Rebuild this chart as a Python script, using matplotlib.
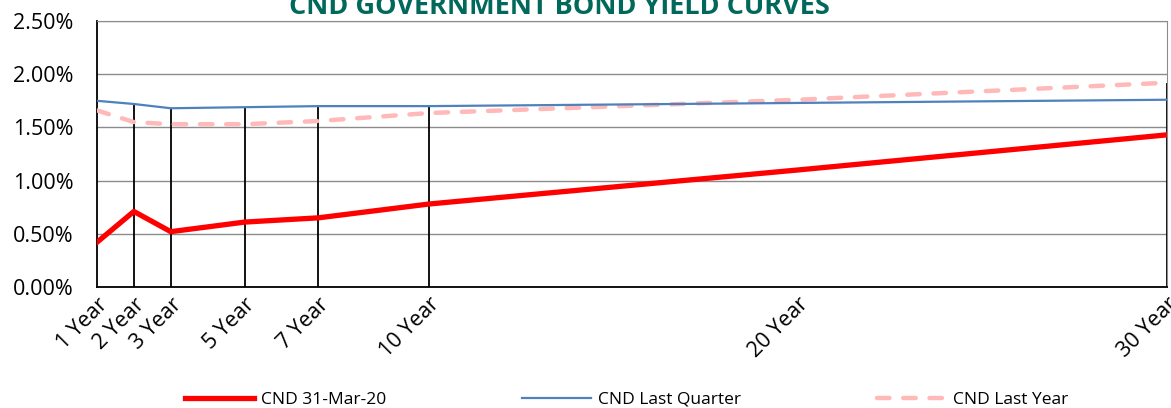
import matplotlib
matplotlib.use("Agg")
import matplotlib.pyplot as plt
from matplotlib.ticker import FuncFormatter

plt.rcParams['font.family'] = ['Open Sans', 'DejaVu Sans']

# maturities in years and their labels
years = [1, 2, 3, 5, 7, 10, 20, 30]
labels = ['1 Year', '2 Year', '3 Year', '5 Year', '7 Year', '10 Year', '20 Year', '30 Year']

# yields in percent
current = [0.42, 0.71, 0.52, 0.61, 0.65, 0.78, 1.10, 1.43]
last_quarter = [1.75, 1.72, 1.68, 1.69, 1.70, 1.70, 1.73, 1.76]
last_year = [1.66, 1.55, 1.53, 1.53, 1.56, 1.635, 1.76, 1.92]

# maturities that get a drop line
drop_years = [2, 3, 5, 7, 10, 30]

fig = plt.figure(figsize=(11.71, 4.08), dpi=100)
ax = fig.add_axes([0.0828, 0.2966, 0.9138, 0.6519])

# drop lines from the highest point down to the axis
for yr in drop_years:
    i = years.index(yr)
    top = max(current[i], last_quarter[i], last_year[i])
    ax.vlines(yr, 0, top, color='black', lw=1.3, zorder=2)

ax.plot(years, last_year, color='#FFB9B9', lw=3.2, dashes=(2.8, 3.1),
        solid_capstyle='round', dash_capstyle='round', label='CND Last Year', zorder=3)
ax.plot(years, last_quarter, color='#4F81BD', lw=1.6, label='CND Last Quarter', zorder=4)
ax.plot(years, current, color='#FF0000', lw=3.8, label='CND 31-Mar-20', zorder=5)

ax.set_xlim(1, 30)
ax.set_ylim(0, 2.5)
ax.set_yticks([0, 0.5, 1.0, 1.5, 2.0, 2.5])
ax.yaxis.set_major_formatter(FuncFormatter(lambda v, p: f'{v:.2f}%'))
ax.set_xticks(years)
ax.set_xticklabels(labels, rotation=45, ha='right', va='top', rotation_mode='anchor')
ax.tick_params(axis='both', length=0, labelsize=15.5)
ax.tick_params(axis='x', pad=5)
ax.tick_params(axis='y', pad=17)
ax.grid(axis='y', color='#8C8C8C', lw=1)
ax.set_axisbelow(True)

for side in ['top', 'right']:
    ax.spines[side].set_color('#8C8C8C')
for side in ['left', 'bottom']:
    ax.spines[side].set_color('black')
    ax.spines[side].set_linewidth(1.3)

fig.text(0.478, 1 - 14 / 408, 'CND GOVERNMENT BOND YIELD CURVES', ha='center', va='baseline',
         fontsize=19.5, fontweight='bold', color='#00695C')

handles, lbls = ax.get_legend_handles_labels()
order = [2, 1, 0]
fig.legend([handles[i] for i in order], [lbls[i] for i in order], loc='center',
           bbox_to_anchor=(0.535, 0.02), ncol=3, frameon=False, fontsize=12.5,
           handlelength=4.0, handletextpad=0.4, columnspacing=7.8)

fig.savefig('out.png', dpi=100)
